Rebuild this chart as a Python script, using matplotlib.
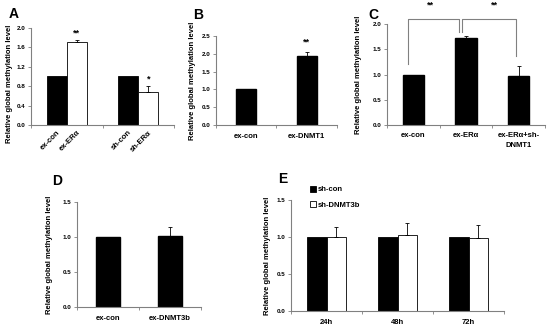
import matplotlib
matplotlib.use("Agg")
import matplotlib.pyplot as plt
import numpy as np

plt.rcParams["font.family"] = ["Liberation Sans", "DejaVu Sans"]
plt.rcParams["font.weight"] = "bold"

# ── data ─────────────────────────────────────────────────────────────────────
a_labels = ["ex-con", "ex-ERα", "sh-con", "sh-ERα"]
a_ctrl = [1.0, 1.0]
a_treat = [1.72, 0.68]
a_treat_err = [0.03, 0.12]
a_stars = ["**", "*"]

b_labels = ["ex-con", "ex-DNMT1"]
b_vals = [1.0, 1.95]
b_err = [0.0, 0.11]

c_labels = ["ex-con", "ex-ERα", "ex-ERα+sh-\nDNMT1"]
c_vals = [1.0, 1.73, 0.97]
c_err = [0.0, 0.04, 0.20]

d_labels = ["ex-con", "ex-DNMT3b"]
d_vals = [1.0, 1.02]
d_err = [0.0, 0.12]

e_labels = ["24h", "48h", "72h"]
e_ctrl = [1.0, 1.0, 1.0]
e_treat = [1.0, 1.03, 0.98]
e_treat_err = [0.14, 0.16, 0.18]
e_legend = ["sh-con", "sh-DNMT3b"]

YLABEL = "Relative global methylation level"
AXCOL = "#808080"


def style(ax, ymax, ystep, ncat):
    ax.set_ylim(0, ymax)
    ax.set_yticks(np.arange(0, ymax + 1e-9, ystep))
    ax.set_yticklabels([f"{v:.1f}" for v in np.arange(0, ymax + 1e-9, ystep)],
                       fontsize=4.5, fontweight="bold")
    ax.set_xlim(-0.5, ncat - 0.5)
    ax.set_xticks(np.arange(-0.5, ncat, 1.0), minor=True)
    ax.tick_params(axis="x", which="major", length=0, pad=6)
    ax.tick_params(axis="x", which="minor", length=2, width=0.6, color=AXCOL)
    ax.tick_params(axis="y", length=2, width=0.6, color=AXCOL, pad=2)
    for s in ["top", "right"]:
        ax.spines[s].set_visible(False)
    for s in ["left", "bottom"]:
        ax.spines[s].set_color(AXCOL)
        ax.spines[s].set_linewidth(0.8)
    ax.set_ylabel(YLABEL, fontsize=5.5, fontweight="bold", labelpad=4)


def up_err(ax, x, y, e):
    ax.errorbar(x, y, yerr=[np.zeros(len(e)), e], fmt="none", ecolor="black",
                elinewidth=0.6, capsize=1.5, capthick=0.6)


fig = plt.figure(figsize=(5.5, 3.32), dpi=100)

# ── A ────────────────────────────────────────────────────────────────────────
axA = fig.add_axes([0.0564, 0.6235, 0.2600, 0.2922])
xa = np.arange(len(a_ctrl))
w = 0.28
axA.bar(xa - w / 2, a_ctrl, w, color="black", edgecolor="black", lw=0.6)
axA.bar(xa + w / 2, a_treat, w, color="white", edgecolor="black", lw=0.6)
up_err(axA, xa + w / 2, a_treat, a_treat_err)
for x, y, e, s in zip(xa + w / 2, a_treat, a_treat_err, a_stars):
    axA.text(x, y + e + 0.06, s, ha="center", va="bottom", fontsize=6.5)
style(axA, 2.0, 0.4, 2)
axA.set_xticks(np.concatenate([xa - w / 2, xa + w / 2])[[0, 2, 1, 3]])
axA.set_xticklabels(a_labels, rotation=45, ha="right", fontsize=5.5,
                    rotation_mode="anchor")
axA.tick_params(axis="x", which="major", pad=3)
axA.yaxis.set_label_coords(-0.125, 0.42)

# ── B ────────────────────────────────────────────────────────────────────────
axB = fig.add_axes([0.3927, 0.6235, 0.2200, 0.2681])
xb = np.arange(len(b_vals))
axB.bar(xb, b_vals, 0.33, color="black", edgecolor="black")
up_err(axB, xb[1:], b_vals[1:], b_err[1:])
axB.text(1, b_vals[1] + b_err[1] + 0.15, "**", ha="center", va="bottom", fontsize=6.5)
style(axB, 2.5, 0.5, 2)
axB.set_xticks(xb)
axB.set_xticklabels(b_labels, fontsize=5.5)

# ── C ────────────────────────────────────────────────────────────────────────
axC = fig.add_axes([0.7036, 0.6235, 0.2874, 0.3042])
xc = np.arange(len(c_vals))
axC.bar(xc, c_vals, 0.4, color="black", edgecolor="black")
up_err(axC, xc[1:], c_vals[1:], c_err[1:])
style(axC, 2.0, 0.5, 3)
axC.set_xticks(xc)
axC.set_xticklabels(c_labels, fontsize=5.5, linespacing=1.6)
axC.tick_params(axis="x", which="major", pad=5)
axC.set_ylabel("")
axC.plot([-0.1, -0.1, 0.87, 0.87], [1.21, 2.10, 2.10, 1.84],
         color=AXCOL, lw=0.8, clip_on=False)
axC.plot([0.92, 0.92, 1.95, 1.95], [1.84, 2.10, 2.10, 1.37],
         color=AXCOL, lw=0.8, clip_on=False)
axC.text(0.32, 2.28, "**", ha="center", va="bottom", fontsize=6.5)
axC.text(1.53, 2.28, "**", ha="center", va="bottom", fontsize=6.5)
fig.text(0.651, 0.775, YLABEL, rotation=90, ha="center", va="center",
         fontsize=5.5, fontweight="bold")

# ── D ────────────────────────────────────────────────────────────────────────
axD = fig.add_axes([0.1400, 0.0753, 0.2255, 0.3163])
xd = np.arange(len(d_vals))
axD.bar(xd, d_vals, 0.4, color="black", edgecolor="black")
up_err(axD, xd[1:], d_vals[1:], d_err[1:])
style(axD, 1.5, 0.5, 2)
axD.set_xticks(xd)
axD.set_xticklabels(d_labels, fontsize=5.5)
axD.set_ylabel(YLABEL, fontsize=5.5, fontweight="bold", labelpad=7)

# ── E ────────────────────────────────────────────────────────────────────────
axE = fig.add_axes([0.5291, 0.0633, 0.3873, 0.3343])
xe = np.arange(len(e_ctrl))
axE.bar(xe - w / 2, e_ctrl, w, color="black", edgecolor="black", lw=0.6,
        label=e_legend[0])
axE.bar(xe + w / 2, e_treat, w, color="white", edgecolor="black", lw=0.6,
        label=e_legend[1])
up_err(axE, xe + w / 2, e_treat, e_treat_err)
style(axE, 1.5, 0.5, 3)
axE.set_xticks(xe)
axE.set_xticklabels(e_labels, fontsize=5.5)
axE.legend(loc="upper left", bbox_to_anchor=(0.055, 1.19), frameon=False,
           fontsize=5.5, handlelength=0.8, handleheight=0.8, handletextpad=0.3,
           labelspacing=1.0)

# panel letters
for lbl, x, y in [("A", 0.015, 0.958), ("B", 0.352, 0.955), ("C", 0.670, 0.955),
                  ("D", 0.095, 0.455), ("E", 0.505, 0.460)]:
    fig.text(x, y, lbl, fontsize=10, fontweight="bold", ha="left", va="center")

fig.savefig("out.png", dpi=100)
